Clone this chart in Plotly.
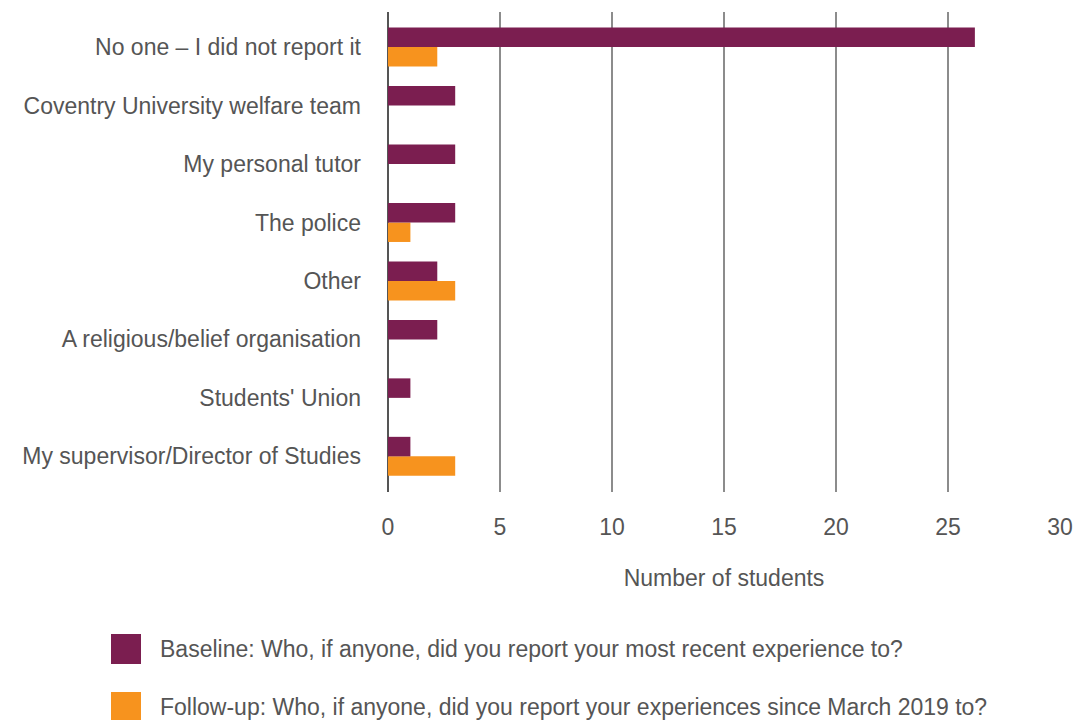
import plotly.graph_objects as go

categories = [
    "My supervisor/Director of Studies",
    "Students' Union",
    "A religious/belief organisation",
    "Other",
    "The police",
    "My personal tutor",
    "Coventry University welfare team",
    "No one \u2013 I did not report it",
]
baseline = [1, 1, 2.2, 2.2, 3, 3, 3, 26.2]
followup = [3, 0, 0, 3, 1, 0, 0, 2.2]

series_names = [
    "Baseline: Who, if anyone, did you report your most recent experience to?",
    "Follow-up: Who, if anyone, did you report your experiences since March 2019 to?",
]
x_ticks = [0, 5, 10, 15, 20, 25, 30]

C_BASE = "#7B1E50"
C_FOLL = "#F7931E"
TXT = "#555555"
FONT = "Liberation Sans, Arial, sans-serif"
FS = 23

OFF = 8  # page body margin
W, H = 1082 - OFF, 720 - OFF
L, T = 388 - OFF, 12 - OFF
pw, ph = 672, 480
R, B = W - L - pw, H - T - ph

fig = go.Figure()
fig.add_trace(go.Bar(y=list(range(len(categories))), x=followup, orientation="h",
                     marker=dict(color=C_FOLL, line=dict(width=0)), name=series_names[1],
                     showlegend=False))
fig.add_trace(go.Bar(y=list(range(len(categories))), x=baseline, orientation="h",
                     marker=dict(color=C_BASE, line=dict(width=0)), name=series_names[0],
                     showlegend=False))


def px_x(px):
    return (px - OFF - L) / pw


def px_y(py):
    return (H - B - (py - OFF)) / ph


fig.update_layout(
    width=W, height=H,
    margin=dict(l=L, r=R, t=T, b=B),
    plot_bgcolor="white", paper_bgcolor="white",
    barmode="group", bargap=0.333, bargroupgap=0,
    font=dict(family=FONT, size=FS, color=TXT),
    xaxis=dict(range=[0, 30], tickvals=x_ticks, ticktext=[str(v) for v in x_ticks],
               showgrid=True, gridcolor="#8c8c8c", gridwidth=2,
               zeroline=True, zerolinecolor="#555555", zerolinewidth=2,
               showline=False, ticks="", ticklabelstandoff=19,
               tickfont=dict(size=FS, color=TXT),
               title=dict(text="Number of students", standoff=30,
                          font=dict(size=FS, color=TXT))),
    yaxis=dict(range=[-0.61, 7.6], tickvals=list(range(len(categories))),
               ticktext=categories, showgrid=False, zeroline=False, showline=False,
               ticks="", ticklabelstandoff=26, tickfont=dict(size=FS, color=TXT)),
)

legend_rows = [(634, C_BASE, series_names[0]), (692, C_FOLL, series_names[1])]
for top, col, txt in legend_rows:
    fig.add_shape(type="rect", xref="paper", yref="paper",
                  x0=px_x(111), x1=px_x(141), y0=px_y(top), y1=px_y(top + 30),
                  fillcolor=col, line=dict(width=0))
    fig.add_annotation(xref="paper", yref="paper", x=px_x(158), y=px_y(top + 15),
                       text=txt, showarrow=False, xanchor="left", yanchor="middle",
                       font=dict(size=FS, color=TXT, family=FONT))

fig.write_html("out.html")
